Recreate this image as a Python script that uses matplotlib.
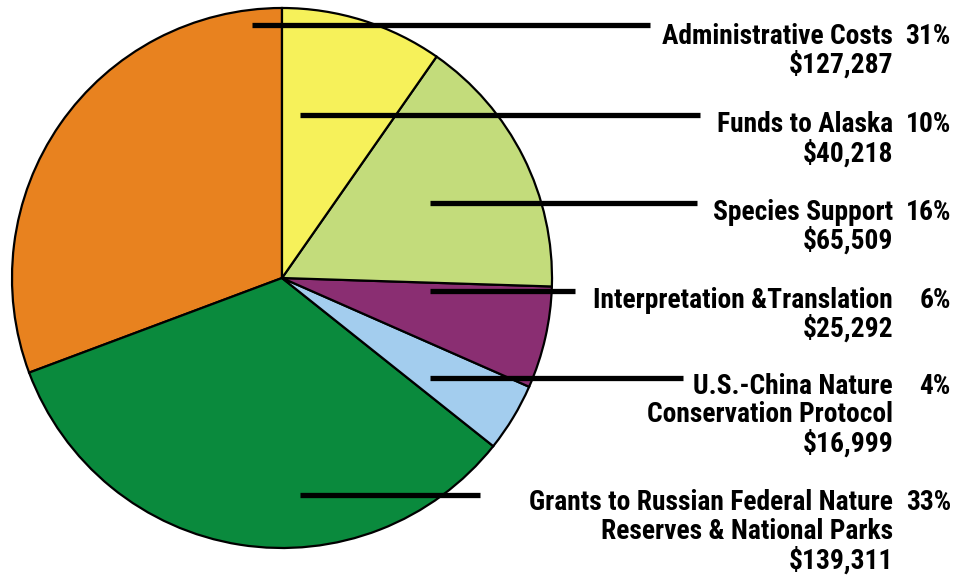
import matplotlib.pyplot as plt

# slices, counterclockwise from the top
labels = ['Administrative Costs',
          'Grants to Russian Federal Nature\nReserves & National Parks',
          'U.S.-China Nature\nConservation Protocol',
          'Interpretation &Translation',
          'Species Support',
          'Funds to Alaska']
amounts = [127287, 139311, 16999, 25292, 65509, 40218]
percents = ['31%', '33%', '4%', '6%', '16%', '10%']
colors = ['#E8821F', '#0A8A3D', '#A3CDEE', '#8A2E72', '#C3DC7B', '#F6F15A']

# label rows (pixel y of first text line) and leader lines
label_y = [36, 503, 386, 300, 212, 125]
line_y = [25, 495, 378, 291, 203, 115]
line_x0 = [252, 300, 430, 430, 430, 300]
line_x1 = [650, 480, 683, 575, 697, 700]

W, H = 971, 576
fig = plt.figure(figsize=(W / 100, H / 100), dpi=100)
ax = fig.add_axes([0, 0, 1, 1])
ax.axis('off')

cx, cy, r = 282, H - 278, 270
ax.pie(amounts, colors=colors, startangle=90, counterclock=True,
       center=(cx, cy), radius=r,
       wedgeprops=dict(edgecolor='black', linewidth=1.6))
ax.set_xlim(0, W)
ax.set_ylim(0, H)
ax.set_aspect('equal')

font = dict(family=['Roboto Condensed', 'DejaVu Sans'], weight='bold',
            fontsize=19.8, color='black')
lh = 28.5
for lab, amt, pct, ly, yy, x0, x1 in zip(labels, amounts, percents, label_y,
                                         line_y, line_x0, line_x1):
    ax.plot([x0, x1], [H - yy, H - yy], color='black', lw=3.8,
            solid_capstyle='butt', zorder=5)
    lines = lab.split('\n') + ['${:,}'.format(amt)]
    for i, t in enumerate(lines):
        ax.text(893, H - (ly + i * lh), t, ha='right', va='center', **font)
    ax.text(951, H - ly, pct, ha='right', va='center', **font)

fig.savefig('out.png', dpi=100)
